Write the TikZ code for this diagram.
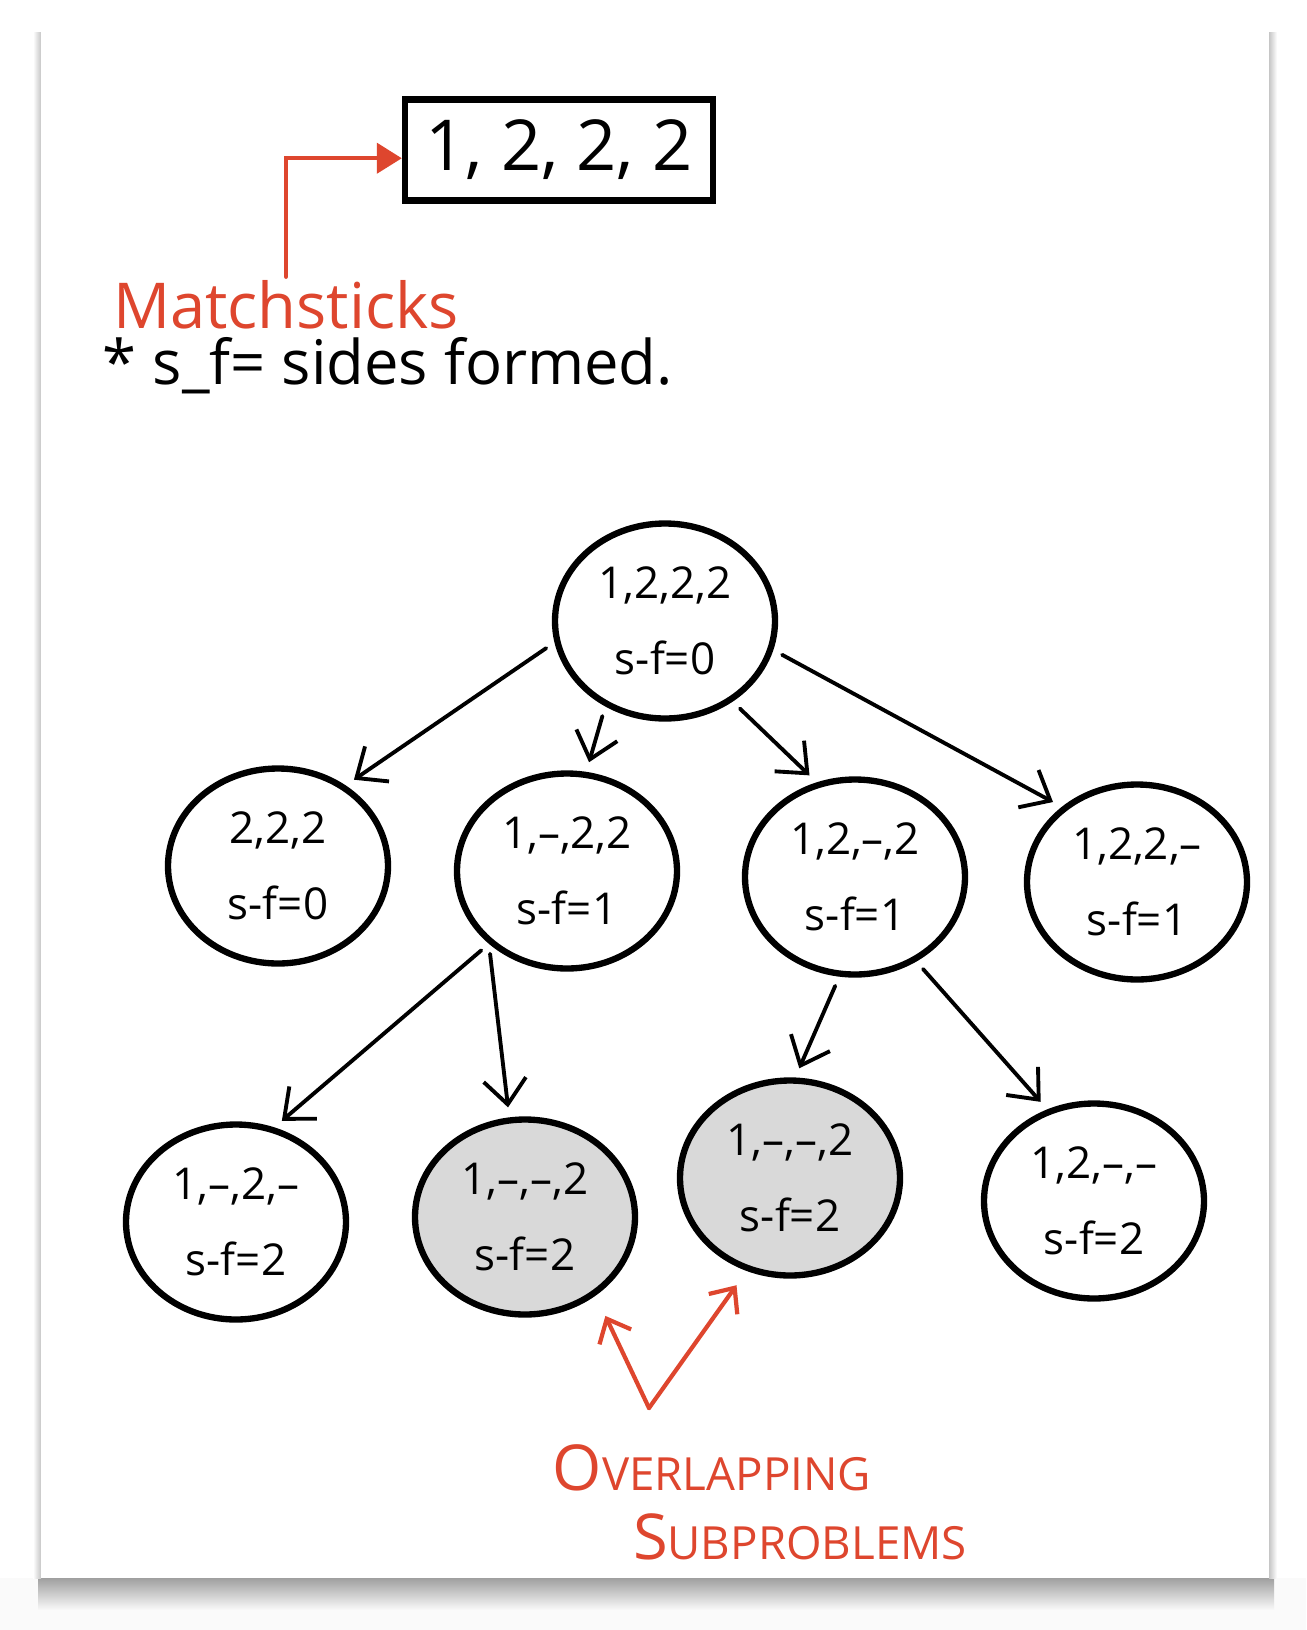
\documentclass[tikz,border=0pt]{standalone}
\usepackage{fontspec}
\setmainfont{Open Sans}
\usepackage{tikz}
\usetikzlibrary{shapes.geometric,arrows.meta}
\definecolor{inkred}{RGB}{222,70,46}
\definecolor{shell}{RGB}{217,217,217}
\newcommand\pt[1]{\fontsize{#1}{#1}\selectfont}

\begin{document}
\begin{tikzpicture}[x=0.2mm, y=-0.2mm,
    sub/.style={ellipse, draw, line width=3.6pt, minimum width=44mm, minimum height=39mm,
      inner sep=0pt, align=center, font=\fontsize{25}{43}\selectfont},
    done/.style={sub, fill=shell},
    edge/.style={line width=2.2pt, line cap=round, -{Straight Barb[length=5mm,width=8.5mm]},
      shorten <=2mm, shorten >=2mm},
    hint/.style={inkred, line width=2.4pt, line cap=round},
    note/.style={inner sep=2pt, font=\pt{34}}]
            \useasboundingbox (0,0) rectangle (1306,1630);
            % sheet of paper
            \fill[white!96!gray] (0,1578) rectangle (1306,1630);
            \shade[top color=gray!75, bottom color=white!96!gray] (38,1578) rectangle (1274,1610);
            \shade[left color=white, right color=gray!45] (33,32) rectangle (41,1578);
            \shade[left color=gray!45, right color=white] (1269,32) rectangle (1277,1578);
            \fill[white] (41,28) rectangle (1269,1578);
            % header
            \node[draw, line width=3.6pt, minimum width=61.6mm, minimum height=20.2mm, font=\pt{40}] (list) at (559,150) {1, 2, 2, 2};
            \node[note, inkred, font=\pt{36}] (ms) at (286,305) {Matchsticks};
            \node[note, font=\pt{35}] (key) at (388,366) {* s\_f= sides formed.};
            \draw[hint, -{Triangle[length=5mm,width=6mm]}] (ms.north) |- (list.183);
            % the tree
            \node[sub] (R) at (665,621) {1,2,2,2\\s-f=0};
            \node[sub] (L1) at (278,866) {2,2,2\\s-f=0};
            \node[sub] (L2) at (567,871) {1,–,2,2\\s-f=1};
            \node[sub] (L3) at (855,877) {1,2,–,2\\s-f=1};
            \node[sub] (L4) at (1137,882) {1,2,2,–\\s-f=1};
            \node[sub] (M1) at (236,1222) {1,–,2,–\\s-f=2};
            \node[done] (M2) at (525,1217) {1,–,–,2\\s-f=2};
            \node[done] (M3) at (790,1178) {1,–,–,2\\s-f=2};
            \node[sub] (M4) at (1094,1201) {1,2,–,–\\s-f=2};
            \draw[edge] (R.191) -- (L1.50);
            \draw[edge] (R.235) -- (L2.79);
            \draw[edge] (R.310) -- (L3.112);
            \draw[edge] (R.345) -- (L4.135);
            \draw[edge] (L2.223) -- (M1.68);
            \draw[edge] (L2.223) -- (M2.99);
            \draw[edge] (L3.261) -- (M3.87);
            \draw[edge] (L3.306) -- (M4.117);
            % overlapping subproblems
            \coordinate (V) at (649,1408);
            \draw[hint, -{Straight Barb[length=4mm,width=7mm]}, shorten >=4.5mm] (V) -- (M2.312);
            \draw[hint, -{Straight Barb[length=4mm,width=7mm]}, shorten >=3.5mm] (V) -- (M3.245);
            \node[note, inkred, font=\pt{26}] (ov) at (712,1468) {{\pt{36}O}VERLAPPING};
            \node[note, inkred, font=\pt{26}] (sp) at (800,1537) {{\pt{36}S}UBPROBLEMS};
        \end{tikzpicture}
\end{document}
